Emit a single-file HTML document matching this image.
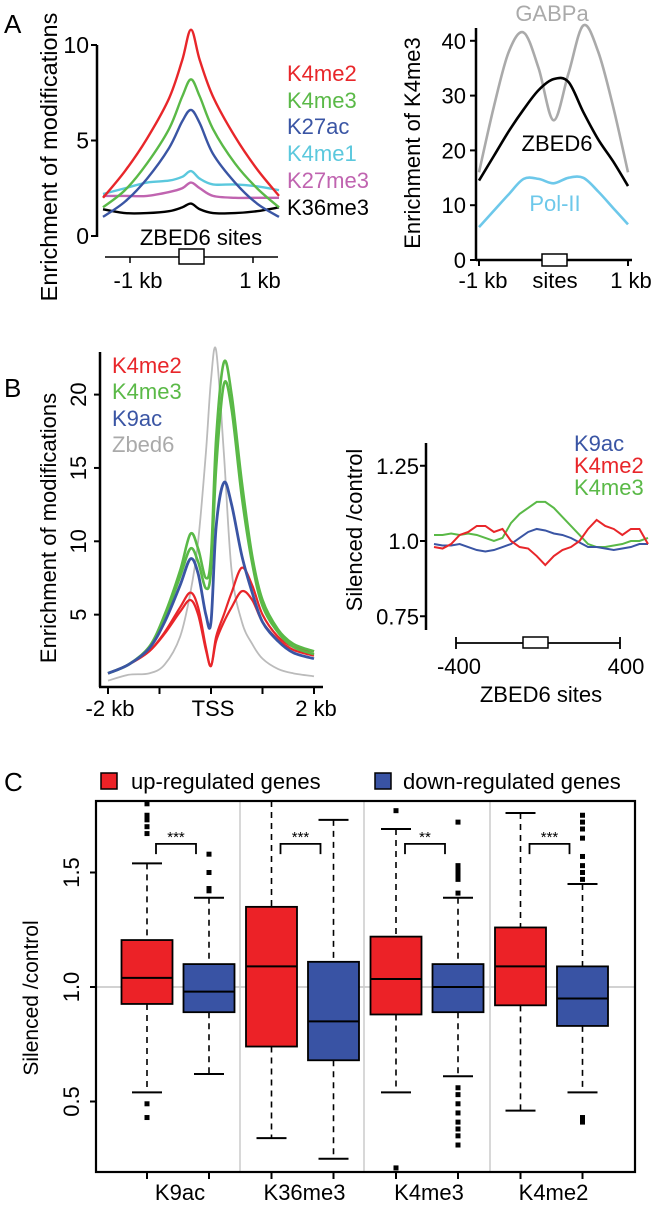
<!DOCTYPE html>
<html><head><meta charset="utf-8"><style>
body{margin:0;background:#fff}
svg{display:block;font-family:"Liberation Sans",Arial,sans-serif}
</style></head><body>
<svg id="fig" width="656" height="1207" viewBox="0 0 656 1207" xmlns="http://www.w3.org/2000/svg">
<text x="4" y="33" font-size="26">A</text>
<text x="4" y="397" font-size="26">B</text>
<text x="4" y="791" font-size="26">C</text>
<g id="gA1"></g>
<g id="gA2"></g>
<g id="gB1"></g>
<g id="gB2"></g>
<g id="gC"></g>
</svg>
<script>
// ---------- Panel A left data ----------
const aPos = [-1,-0.75,-0.5,-0.25,-0.1,0,0.1,0.25,0.5,0.75,1];
const aK4me2 = [2.0,3.4,5.1,7.2,9.2,10.8,9.2,7.3,5.2,3.5,2.1];
const aK4me3 = [1.5,2.4,3.8,5.6,7.3,8.2,7.3,5.6,3.8,2.5,1.5];
const aK27ac = [1.0,1.8,3.0,4.6,6.0,6.6,5.9,4.3,2.8,1.7,1.0];
const aK4me1 = [2.2,2.5,2.8,2.9,3.1,3.4,3.0,2.7,2.7,2.6,2.4];
const aK27me3 = [2.1,2.1,2.1,2.3,2.5,2.8,2.5,2.1,2.0,2.0,2.0];
const aK36me3 = [1.4,1.2,1.2,1.3,1.5,1.7,1.4,1.2,1.2,1.3,1.5];
const aNames = ["K4me2","K4me3","K27ac","K4me1","K27me3","K36me3"];
const aYTicks = [0,5,10];
// ---------- Panel A right data ----------
const a2Pos = [-1,-0.8,-0.6,-0.4,-0.2,0,0.2,0.4,0.6,0.8,1];
const a2GABPa = [16,28,38,41.5,35,25.5,34,42.8,38,28,16];
const a2ZBED6 = [14.5,19,23.5,27.5,31,33,32.5,27,22,18,13.5];
const a2PolII = [6,9,12,14.8,14.8,14,15,15,12.5,9.5,6.5];
const a2YTicks = [0,10,20,30,40];
// ---------- Panel B left data ----------
const bPos = [-2,-1.6,-1.2,-0.9,-0.6,-0.4,-0.25,-0.1,0,0.1,0.25,0.4,0.6,0.8,1.0,1.3,1.6,2];
const bZbed6 = [0.5,0.9,1.0,1.6,3.5,6.5,10,16,21,23,16,8,4.5,3,2,1.3,1.0,0.8];
const bK4me3a = [1.0,1.6,2.8,5,8,10.5,9.5,7.5,9,17,22.2,20,14,9,6,4,3,2.5];
const bK4me3b = [1.0,1.6,2.8,4.8,7.6,9.5,8.6,6.8,8,15,20.7,19,13,8.5,5.6,3.8,2.8,2.3];
const bK9ac = [1.0,1.6,2.7,4.5,7,8.8,7.8,5,4.5,11,14,12.5,9,6.5,4.5,3.2,2.4,2.0];
const bK4me2a = [1.0,1.6,2.5,3.8,5.5,6.5,5.5,2.8,1.5,3.5,5,6.5,8.2,7,5,3.5,2.8,2.5];
const bK4me2b = [1.0,1.6,2.5,3.7,5.2,6.0,5.0,2.6,1.5,3.2,4.5,5.5,6.6,6,4.5,3.3,2.6,2.2];
const bYTicks = [5,10,15,20];
const bXTicks = [-2,-1,0,1,2];
const bXLabels = ["-2 kb","","TSS","","2 kb"];
// ---------- Panel B right data ----------
const rPos = [0,0.04,0.08,0.12,0.16,0.2,0.24,0.28,0.32,0.36,0.4,0.44,0.48,0.52,0.56,0.6,0.64,0.68,0.72,0.76,0.8,0.84,0.88,0.92,0.96,1];
const rK4me3 = [1.02,1.02,1.025,1.02,1.025,1.02,1.01,1.0,1.01,1.06,1.09,1.11,1.13,1.13,1.11,1.08,1.05,1.02,0.99,0.98,0.98,0.985,0.99,1.0,1.0,1.01];
const rK9ac = [0.99,0.985,0.985,0.99,0.98,0.97,0.965,0.97,0.98,0.99,1.01,1.03,1.04,1.035,1.025,1.02,1.01,0.995,0.98,0.98,0.975,0.97,0.975,0.98,0.99,0.99];
const rK4me2 = [0.98,0.975,0.99,1.02,1.03,1.05,1.05,1.03,1.04,1.0,0.98,0.975,0.95,0.92,0.95,0.97,0.98,1.0,1.04,1.07,1.05,1.04,1.02,1.04,1.04,0.99];
const rYTicks = [0.75,1.0,1.25];
const rYLabels = ["0.75","1.0","1.25"];
// ---------- Panel C data ----------
const cCats = ["K9ac","K36me3","K4me3","K4me2"];
const cUpQ1 = [0.926,0.74,0.88,0.92];
const cUpMed = [1.04,1.09,1.035,1.09];
const cUpQ3 = [1.205,1.35,1.22,1.26];
const cUpLo = [0.54,0.34,0.54,0.46];
const cUpHi = [1.54,1.85,1.69,1.76];
const cUpOut = [[1.67,1.70,1.73,1.75,1.8,0.49,0.43],[],[1.77,0.21],[]];
const cDnQ1 = [0.89,0.68,0.89,0.83];
const cDnMed = [0.98,0.85,1.0,0.95];
const cDnQ3 = [1.10,1.11,1.10,1.09];
const cDnLo = [0.62,0.25,0.61,0.54];
const cDnHi = [1.39,1.73,1.39,1.45];
const cDnOut = [[1.58,1.50,1.43,1.42],[],[1.72,1.53,1.51,1.49,1.47,1.41,0.56,0.53,0.49,0.45,0.41,0.38,0.35,0.31],[1.75,1.72,1.69,1.65,1.57,1.53,1.50,1.47,0.43,0.41]];
const cStars = ["***","***","**","***"];
const cYTicks = [0.5,1.0,1.5];
const cYLabels = ["0.5","1.0","1.5"];

const NS="http://www.w3.org/2000/svg";
function mk(parent, tag, attrs){const e=document.createElementNS(NS,tag);for(const k in attrs)e.setAttribute(k,attrs[k]);parent.appendChild(e);return e;}
function smooth(pts){let d="M"+pts[0][0]+","+pts[0][1];for(let i=0;i<pts.length-1;i++){const p0=pts[Math.max(i-1,0)],p1=pts[i],p2=pts[i+1],p3=pts[Math.min(i+2,pts.length-1)];const c1x=p1[0]+(p2[0]-p0[0])/6,c1y=p1[1]+(p2[1]-p0[1])/6,c2x=p2[0]-(p3[0]-p1[0])/6,c2y=p2[1]-(p3[1]-p1[1])/6;d+=" C"+c1x+","+c1y+" "+c2x+","+c2y+" "+p2[0]+","+p2[1];}return d;}
function txt(parent,x,y,s,size,fill,anchor,rot){const t=mk(parent,"text",{x:x,y:y,"font-size":size,fill:fill||"#000","text-anchor":anchor||"start"});if(rot)t.setAttribute("transform","rotate(-90 "+x+" "+y+")");t.textContent=s;return t;}
function ln(parent,x1,y1,x2,y2,stroke,w){return mk(parent,"line",{x1:x1,y1:y1,x2:x2,y2:y2,stroke:stroke||"#000","stroke-width":w||2});}
const FS=22;

// ===== Panel A left =====
(function(){
const g=document.getElementById("gA1");
const X=t=>191+t*88, Y=v=>236-v*19.1;
ln(g,97,45,97,237,"#000",2.5);
aYTicks.forEach(v=>{ln(g,91,Y(v),97,Y(v));const t=txt(g,89,Y(v)+8,String(v),23,"#000","end");});
const series=[[aK4me2,"#e8262a"],[aK4me3,"#5ab947"],[aK27ac,"#3a55a4"],[aK4me1,"#5bc8dd"],[aK27me3,"#c064b0"],[aK36me3,"#000"]];
series.slice().reverse().forEach(([vals,c])=>{const p=mk(g,"path",{d:smooth(aPos.map((t,j)=>[X(t),Y(vals[j])])),fill:"none",stroke:c,"stroke-width":2.4});});
const ly=[81,108,134,161,188,215];
aNames.forEach((n,i)=>{const t=txt(g,287,ly[i],n,FS,series[i][1]);});
txt(g,201,245,"ZBED6 sites",FS,"#000","middle");
ln(g,105,257,278,257,"#000",1.5);
mk(g,"rect",{x:179,y:249,width:25,height:15,fill:"#fff",stroke:"#000","stroke-width":1.5});
ln(g,130,257,130,263,"#000",1.5);ln(g,253,257,253,263,"#000",1.5);
txt(g,138,288,"-1 kb",FS,"#000","middle");txt(g,260,288,"1 kb",FS,"#000","middle");
const yl=txt(g,57,157,"Enrichment of modifications",23.5,"#000","middle",true);

})();

// ===== Panel A right =====
(function(){
const g=document.getElementById("gA2");
const X=t=>553.5+t*74.5, Y=v=>260-v*5.48;
ln(g,476,28,476,260,"#000",2.5);ln(g,476,260,632,260,"#000",2.5);
a2YTicks.forEach(v=>{ln(g,470,Y(v),476,Y(v));const t=txt(g,466,Y(v)+8,String(v),FS,"#000","end");});
[[a2GABPa,"#aaa"],[a2ZBED6,"#000"],[a2PolII,"#6dc8ea"]].forEach(([vals,c])=>{const p=mk(g,"path",{d:smooth(a2Pos.map((t,j)=>[X(t),Y(vals[j])])),fill:"none",stroke:c,"stroke-width":2.6});});
txt(g,552,21,"GABPa",FS,"#aaa","middle");
txt(g,557,151,"ZBED6",FS,"#000","middle");
txt(g,555,211,"Pol-II",FS,"#6dc8ea","middle");
ln(g,479,260,479,266,"#000",2);ln(g,628,260,628,266,"#000",2);
mk(g,"rect",{x:542,y:254,width:25,height:12,fill:"#fff",stroke:"#000","stroke-width":1.5});
txt(g,483,288,"-1 kb",FS,"#000","middle");txt(g,555,288,"sites",FS,"#000","middle");txt(g,631,288,"1 kb",FS,"#000","middle");
const yl=txt(g,420,143,"Enrichment of K4me3",FS,"#000","middle",true);

})();

// ===== Panel B left =====
(function(){
const g=document.getElementById("gB1");
const X=t=>211+t*51.5, Y=v=>688-v*14.67;
ln(g,100,352,100,687,"#000",2.5);ln(g,99,687,323,687,"#000",2.5);
bYTicks.forEach(v=>{ln(g,94,Y(v),100,Y(v));const t=txt(g,86,Y(v),String(v),FS,"#000","middle",true);});
bXTicks.forEach((v,i)=>{ln(g,X(v),687,X(v),694);const t=txt(g,X(v)+2,716,bXLabels[i],FS,"#000","middle");});
[[bZbed6,"#bbb",1.8],[bK4me2a,"#e8262a",2.2],[bK4me2b,"#e8262a",2.2],[bK4me3a,"#5ab947",2.6],[bK4me3b,"#5ab947",2.6],[bK9ac,"#3a55a4",2.8]].forEach(([vals,c,w])=>{const p=mk(g,"path",{d:smooth(bPos.map((t,j)=>[X(t),Y(vals[j])])),fill:"none",stroke:c,"stroke-width":w});});
[["K4me2","#e8262a",373],["K4me3","#5ab947",399],["K9ac","#3a55a4",426],["Zbed6","#aaa",452]].forEach(([n,c,y])=>{const t=txt(g,112,y,n,FS,c);});
const yl=txt(g,56,528,"Enrichment of modifications",FS,"#000","middle",true);

})();

// ===== Panel B right =====
(function(){
const g=document.getElementById("gB2");
const X=t=>434+t*214, Y=v=>541-(v-1)*301;
ln(g,426,443,426,630,"#000",2.5);
rYTicks.forEach((v,i)=>{ln(g,420,Y(v),426,Y(v));const t=txt(g,419,Y(v)+8,rYLabels[i],FS,"#000","end");});
[[rK4me3,"#5ab947"],[rK9ac,"#3a55a4"],[rK4me2,"#e8262a"]].forEach(([vals,c])=>{const p=mk(g,"polyline",{points:rPos.map((t,j)=>X(t)+","+Y(vals[j])).join(" "),fill:"none",stroke:c,"stroke-width":2});});
[["K9ac","#3a55a4",451],["K4me2","#e8262a",473],["K4me3","#5ab947",495]].forEach(([n,c,y])=>{const t=txt(g,574,y,n,FS,c);});
ln(g,456,643,620,643,"#000",1.8);ln(g,456,637,456,649,"#000",1.8);ln(g,620,637,620,649,"#000",1.8);
mk(g,"rect",{x:523,y:637,width:25,height:11,fill:"#fff",stroke:"#000","stroke-width":1.5});
txt(g,459,674,"-400",FS,"#000","middle");txt(g,626,674,"400",FS,"#000","middle");
txt(g,541,702,"ZBED6 sites",FS,"#000","middle");
const yl=txt(g,362,530,"Silenced /control",FS,"#000","middle",true);

})();

// ===== Panel C =====
(function(){
const g=document.getElementById("gC");
const Y=v=>987-(v-1)*229;
const upX=i=>147+i*124.5, dnX=i=>209+i*124.5, bw=51;
mk(g,"rect",{x:101,y:773,width:16,height:16,fill:"#ec2227",stroke:"#000","stroke-width":1.5});
txt(g,131,789,"up-regulated genes",FS);
mk(g,"rect",{x:375,y:773,width:16,height:16,fill:"#3953a4",stroke:"#000","stroke-width":1.5});
txt(g,403,789,"down-regulated genes",FS);
[240,364,490].forEach(x=>ln(g,x,801,x,1172,"#ccc",1.5));
ln(g,96,987,635,987,"#ccc",1.8);
function box(cx,q1,med,q3,lo,hi,outs,fill){
  const top=Math.max(Y(hi),801);
  const w1=ln(g,cx,top,cx,Y(q3),"#000",1.6);w1.setAttribute("stroke-dasharray","6,5");
  const w2=ln(g,cx,Y(q1),cx,Y(lo),"#000",1.6);w2.setAttribute("stroke-dasharray","6,5");
  if(hi<1.81)ln(g,cx-15,Y(hi),cx+15,Y(hi),"#000",2);
  ln(g,cx-15,Y(lo),cx+15,Y(lo),"#000",2);
  const r=mk(g,"rect",{x:cx-bw/2,y:Y(q3),width:bw,height:Y(q1)-Y(q3),fill:fill,stroke:"#000","stroke-width":1.8});
  
  ln(g,cx-bw/2,Y(med),cx+bw/2,Y(med),"#000",2);
  outs.forEach(v=>{const o=mk(g,"rect",{x:cx-2.5,y:Y(v)-2.5,width:5,height:5,fill:"#000"});});
  ln(g,cx,1172,cx,1179,"#000",2);
}
cCats.forEach((c,i)=>{
  box(upX(i),cUpQ1[i],cUpMed[i],cUpQ3[i],cUpLo[i],cUpHi[i],cUpOut[i],"#ec2227");
  box(dnX(i),cDnQ1[i],cDnMed[i],cDnQ3[i],cDnLo[i],cDnHi[i],cDnOut[i],"#3953a4");
  const b=mk(g,"polyline",{points:(upX(i)+9)+","+Y(1.58)+" "+(upX(i)+9)+","+Y(1.625)+" "+(dnX(i)-13)+","+Y(1.625)+" "+(dnX(i)-13)+","+Y(1.58),fill:"none",stroke:"#000","stroke-width":1.8});
  
  const s=txt(g,(upX(i)+dnX(i))/2-2,Y(1.625)-2,cStars[i],15,"#000","middle");
  
  const t=txt(g,upX(i)+33,1200,c,FS,"#000","middle");
});
mk(g,"rect",{x:96,y:801,width:539,height:371,fill:"none",stroke:"#000","stroke-width":2.2});
cYTicks.forEach((v,i)=>{ln(g,90,Y(v),96,Y(v));const t=txt(g,79,Y(v),cYLabels[i],FS,"#000","middle",true);});
const yl=txt(g,38,998,"Silenced /control",21,"#000","middle",true);

})();
</script>
</body></html>
